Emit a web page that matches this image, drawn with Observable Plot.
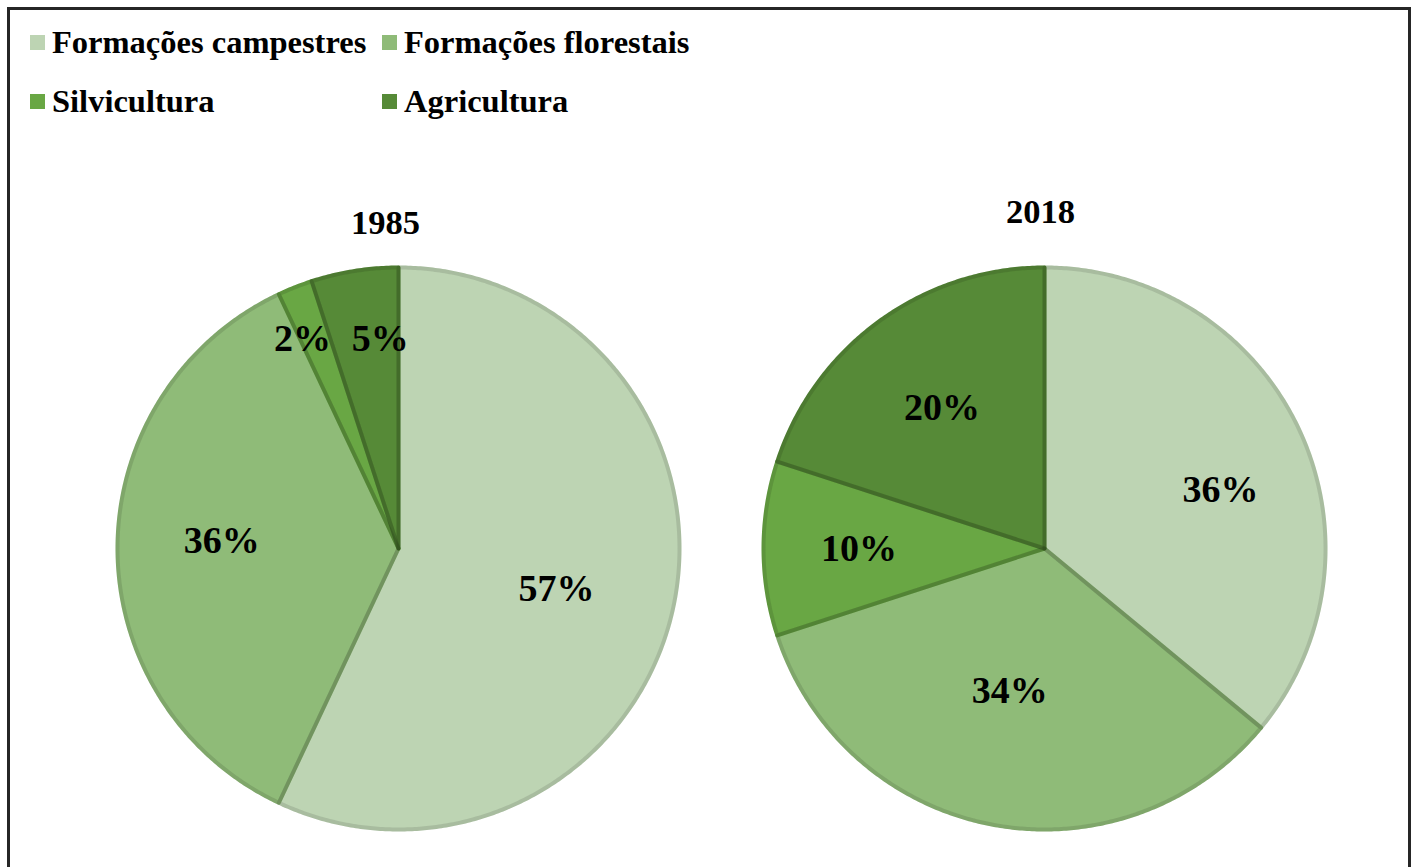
<!DOCTYPE html>
<html><head><meta charset="utf-8">
<script src="https://cdn.jsdelivr.net/npm/d3@7"></script>
<script src="https://cdn.jsdelivr.net/npm/@observablehq/plot@0.6"></script>
<style>
html,body{margin:0;padding:0;background:#fff;overflow:hidden;width:1414px;height:867px}
#wrap{position:relative;width:1414px;height:867px;font-family:"Liberation Serif","Times New Roman",serif}
#frame{position:absolute;left:7px;top:7px;width:1404px;height:900px;border:3px solid #262626;box-sizing:border-box;pointer-events:none}
.item{position:absolute;display:flex;align-items:center;font-weight:bold;font-size:32.5px;line-height:36px;height:36px;color:#000;white-space:nowrap}
.sw{width:15px;height:15px;margin-right:7px;flex:none}
#chart{position:absolute;left:0;top:0}
</style></head><body><div id="wrap"><div id="chart"></div><div id="frame"></div></div>
<script>
// ---- data ----
const categories = ["Formações campestres", "Formações florestais", "Silvicultura", "Agricultura"];
const years = ["1985", "2018"];
const values1985 = [57, 36, 2, 5];
const values2018 = [36, 34, 10, 20];
const colors = ["#bdd4b3", "#8fbb78", "#69a744", "#568a37"];

// ---- layout (not data) ----
const pieCenters = [0, 2.299];          // in radius units
const labelRadius = [[0.58, 0.63, 0.82, 0.75], [0.66, 0.52, 0.66, 0.62]];
const labelShiftDeg = [[1.6, 2.6, -3, 4], [6.8, 3, 0, 0]];
const titleOffset = [[-0.046, 1.16], [-0.014, 1.196]];
const legendPos = [[30, 42], [382, 42], [30, 101], [382, 101]];

const seriesByYear = [values1985, values2018];

// build slice polygons
const slicePts = [];
const labels = [];
seriesByYear.forEach((vals, p) => {
  const total = d3.sum(vals);
  let cum = 0;
  vals.forEach((v, i) => {
    const a0 = cum / total * 2 * Math.PI;
    const a1 = (cum + v) / total * 2 * Math.PI;
    cum += v;
    const id = years[p] + "-" + i;
    const cx = pieCenters[p];
    slicePts.push({id, category: categories[i], x: cx, y: 0});
    const n = Math.max(2, Math.ceil((a1 - a0) / (Math.PI / 360)));
    for (let k = 0; k <= n; k++) {
      const a = a0 + (a1 - a0) * k / n;
      slicePts.push({id, category: categories[i], x: cx + Math.sin(a), y: Math.cos(a)});
    }
    const am = (a0 + a1) / 2 + labelShiftDeg[p][i] * Math.PI / 180;
    const lr = labelRadius[p][i];
    labels.push({x: cx + lr * Math.sin(am), y: lr * Math.cos(am), text: v + "%"});
  });
});
const titles = years.map((y, p) => ({x: pieCenters[p] + titleOffset[p][0], y: titleOffset[p][1], text: y}));

const R = 281;
const cxPix = 398;
const plot = Plot.plot({
  width: 1414, height: 867,
  marginLeft: cxPix - R,
  marginRight: 1414 - (cxPix + R + pieCenters[1] * R),
  marginTop: 548 - R,
  marginBottom: 867 - (548 + R),
  x: {domain: [-1, pieCenters[1] + 1], axis: null},
  y: {domain: [-1, 1], axis: null},
  color: {domain: categories, range: colors},
  style: {fontFamily: "'Liberation Serif','Times New Roman',serif", background: "transparent"},
  marks: [
    Plot.line(slicePts, {x: "x", y: "y", z: "id", fill: "category", stroke: "category", strokeWidth: 4, curve: "linear-closed", strokeLinejoin: "round"}),
    Plot.line(slicePts, {x: "x", y: "y", z: "id", stroke: "black", strokeOpacity: 0.11, strokeWidth: 4, curve: "linear-closed", strokeLinejoin: "round"}),
    Plot.text(labels, {x: "x", y: "y", text: "text", fontSize: 38, fontWeight: "bold", fill: "#000"}),
    Plot.text(titles, {x: "x", y: "y", text: "text", fontSize: 34.5, fontWeight: "bold", fill: "#000"})
  ]
});
document.getElementById("chart").appendChild(plot);

// legend (HTML overlay)
const wrap = document.getElementById("wrap");
categories.forEach((c, i) => {
  const it = document.createElement("div");
  it.className = "item";
  it.style.left = legendPos[i][0] + "px";
  it.style.top = (legendPos[i][1] - 18) + "px";
  const sw = document.createElement("span");
  sw.className = "sw";
  sw.style.background = colors[i];
  it.appendChild(sw);
  it.appendChild(document.createTextNode(c));
  wrap.appendChild(it);
});
</script></body></html>
